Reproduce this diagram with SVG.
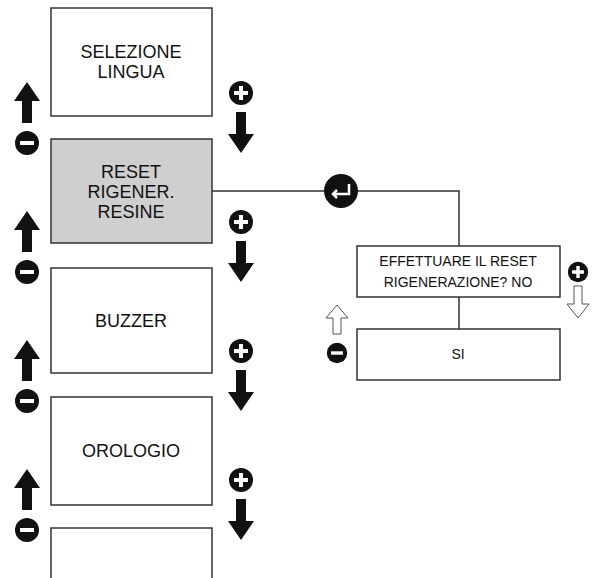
<svg xmlns="http://www.w3.org/2000/svg" width="601" height="578" viewBox="0 0 601 578">
<defs>
<style>
.box{fill:#fff;stroke:#333;stroke-width:1.5}
.t{font-family:"Liberation Sans",Arial,sans-serif;font-size:18px;fill:#111;text-anchor:middle}
.s{font-family:"Liberation Sans",Arial,sans-serif;font-size:14px;fill:#111;text-anchor:middle}
.ln{stroke:#333;stroke-width:1.5;fill:none}
</style>
<g id="up"><path d="M-13,-22 L0,-41 L13,-22 L5,-22 L5,0 L-5,0 L-5,-22 Z" fill="#111"/></g>
<g id="down"><path d="M-13,22 L0,41 L13,22 L5,22 L5,0 L-5,0 L-5,22 Z" fill="#111"/></g>
<g id="plus"><circle r="12" fill="#111"/><path d="M-7,0H7M0,-7V7" stroke="#fff" stroke-width="4"/></g>
<g id="minus"><circle r="12" fill="#111"/><path d="M-7,0H7" stroke="#fff" stroke-width="4"/></g>
<g id="ctl1"><use href="#up" x="27" y="123"/><use href="#minus" x="27" y="143"/><use href="#plus" x="241" y="93"/><use href="#down" x="241" y="112"/></g>
</defs>
<g id="controls">
<use href="#ctl1"/>
<use href="#ctl1" y="129"/>
<use href="#ctl1" y="258"/>
<use href="#ctl1" y="387"/>
</g>
<g id="connectors">
<path class="ln" d="M212,191H459V246M459,297V329"/>
</g>
<g id="n1"><rect class="box" x="51" y="8" width="161" height="108"/><text class="t" x="131" y="58">SELEZIONE</text><text class="t" x="131" y="78">LINGUA</text></g>
<g id="n2"><rect class="box" style="fill:#cfcfcf" x="51" y="139" width="161" height="104"/><text class="t" x="131" y="178">RESET</text><text class="t" x="131" y="198">RIGENER.</text><text class="t" x="131" y="218">RESINE</text></g>
<g id="n3"><rect class="box" x="51" y="268" width="161" height="105"/><text class="t" x="131" y="327">BUZZER</text></g>
<g id="n4"><rect class="box" x="51" y="397" width="161" height="108"/><text class="t" x="131" y="457">OROLOGIO</text></g>
<g id="n5"><path class="ln" d="M51,578V528H212V578"/></g>
<g id="enter"><circle cx="341" cy="191" r="17" fill="#111"/><path d="M349,184V194H333M337,190L333,194L337,198" stroke="#fff" stroke-width="2.5" fill="none"/></g>
<g id="dialog"><rect class="box" x="357" y="246" width="203" height="51"/><text class="s" x="458" y="266">EFFETTUARE IL RESET</text><text class="s" x="458" y="287">RIGENERAZIONE? NO</text></g>
<g id="si"><rect class="box" x="357" y="329" width="203" height="51"/><text class="s" x="458" y="359">SI</text></g>
<g id="dlgctl">
<use href="#plus" x="578" y="272" transform="translate(578,272) scale(0.85) translate(-578,-272)"/>
<path d="M574,286H582V304H589L578,318L567,304H574Z" fill="#fff" stroke="#555" stroke-width="1"/>
<path d="M333,334H341V318H348L337,305L326,318H333Z" fill="#fff" stroke="#555" stroke-width="1"/>
<use href="#minus" x="337" y="353" transform="translate(337,353) scale(0.85) translate(-337,-353)"/>
</g>
</svg>
